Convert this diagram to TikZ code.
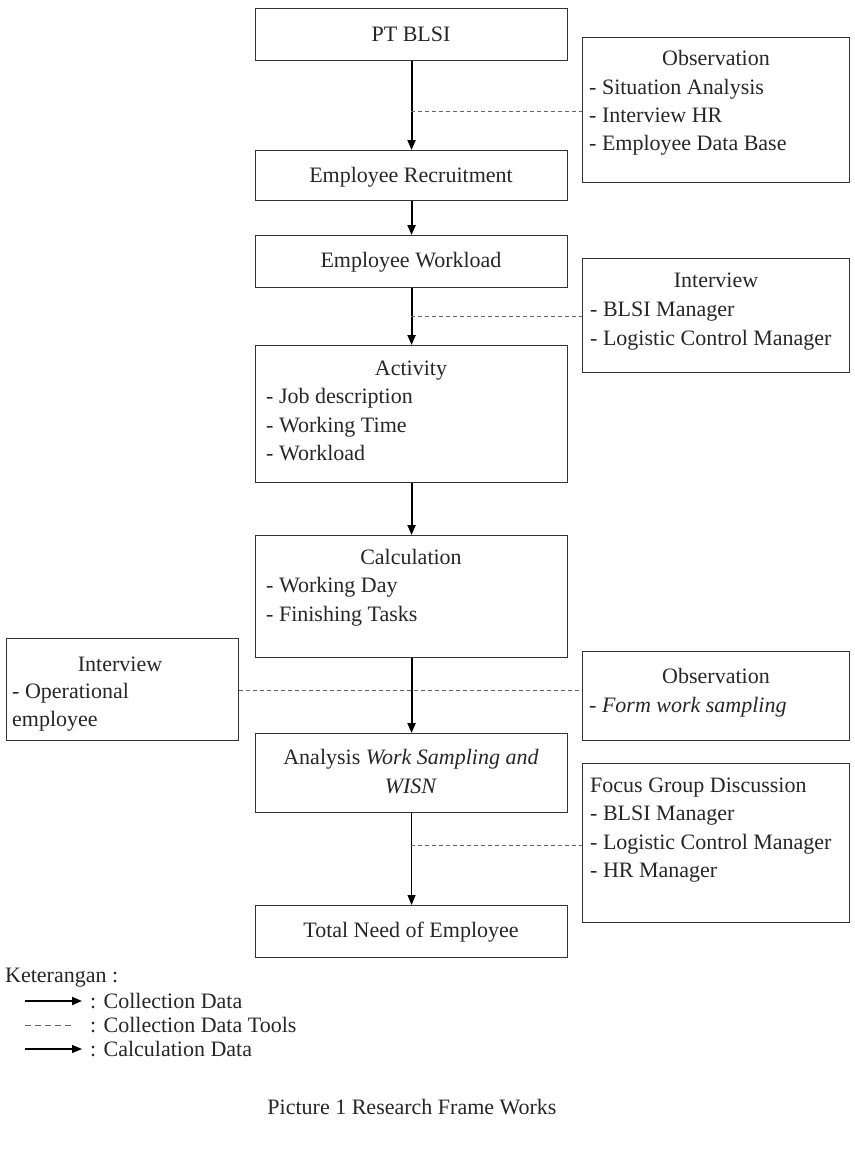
\documentclass[tikz,border=0pt]{standalone}
\usepackage{fontspec}
\setmainfont{Liberation Serif}
\usetikzlibrary{arrows.meta}
\begin{document}
\begin{tikzpicture}[x=1pt,y=-1pt,
  box/.style={draw=black!80, line width=1.1pt, inner sep=0pt, rectangle, anchor=north west},
  txt/.style={inner sep=0pt, font=\fontsize{22}{28}\selectfont, text=black!85},
  coll/.style={line width=2pt, draw=black, -{Triangle[length=10pt,width=8pt]}},
  calc/.style={line width=1.1pt, draw=black, -{Triangle[length=10pt,width=8pt]}},
  tool/.style={draw=black!60, line width=1pt, dash pattern=on 4pt off 3pt},
  legtool/.style={draw=black!60, line width=1pt, dash pattern=on 6pt off 4pt}
]
\useasboundingbox (0,0) rectangle (854,1159);
% main column
\node[box, minimum width=312pt, minimum height=52pt] (pt) at (255,8) {};
\node[txt, anchor=base] (ptT) at (411,41) {PT BLSI};
\node[box, minimum width=312pt, minimum height=50pt] (rec) at (255,150) {};
\node[txt, anchor=base] (recT) at (411,182) {Employee Recruitment};
\node[box, minimum width=312pt, minimum height=52pt] (wl) at (255,235) {};
\node[txt, anchor=base] (wlT) at (411,267) {Employee Workload};
\node[box, minimum width=312pt, minimum height=137pt] (act) at (255,345) {};
\node[txt, anchor=base] (actT) at (411,375) {Activity};
\node[txt, anchor=base west] (act1) at (266,403) {- Job description};
\node[txt, anchor=base west] (act2) at (266,432) {- Working Time};
\node[txt, anchor=base west] (act3) at (266,460) {- Workload};
\node[box, minimum width=312pt, minimum height=122pt] (cal) at (255,535) {};
\node[txt, anchor=base] (calT) at (411,564) {Calculation};
\node[txt, anchor=base west] (cal1) at (266,592) {- Working Day};
\node[txt, anchor=base west] (cal2) at (266,621) {- Finishing Tasks};
\node[box, minimum width=312pt, minimum height=79pt] (ana) at (255,733) {};
\node[txt, anchor=base] (anaT1) at (411,764) {Analysis \textit{Work Sampling and}};
\node[txt, anchor=base] (anaT2) at (411,793) {\textit{WISN}};
\node[box, minimum width=312pt, minimum height=52pt] (tot) at (255,905) {};
\node[txt, anchor=base] (totT) at (411,937) {Total Need of Employee};
% side boxes
\node[box, minimum width=267pt, minimum height=145pt] (obs1) at (582,37) {};
\node[txt, anchor=base] (obs1T) at (716,65) {Observation};
\node[txt, anchor=base west] (obs1a) at (589,94) {- Situation Analysis};
\node[txt, anchor=base west] (obs1b) at (589,122) {- Interview HR};
\node[txt, anchor=base west] (obs1c) at (589,150) {- Employee Data Base};
\node[box, minimum width=267pt, minimum height=114pt] (int1) at (582,258) {};
\node[txt, anchor=base] (int1T) at (716,287) {Interview};
\node[txt, anchor=base west] (int1a) at (590,316) {- BLSI Manager};
\node[txt, anchor=base west] (int1b) at (590,345) {- Logistic Control Manager};
\node[box, minimum width=232pt, minimum height=102pt] (intL) at (6,638) {};
\node[txt, anchor=base] (intLT) at (120,671) {Interview};
\node[txt, anchor=base west] (intLa) at (12,698) {- Operational};
\node[txt, anchor=base west] (intLb) at (12,726) {employee};
\node[box, minimum width=267pt, minimum height=89pt] (obs2) at (582,651) {};
\node[txt, anchor=base] (obs2T) at (716,683) {Observation};
\node[txt, anchor=base west] (obs2a) at (589,712) {\textit{- Form work sampling}};
\node[box, minimum width=267pt, minimum height=159pt] (fgd) at (582,763) {};
\node[txt, anchor=base west] (fgdT) at (590,792) {Focus Group Discussion};
\node[txt, anchor=base west] (fgda) at (590,820) {- BLSI Manager};
\node[txt, anchor=base west] (fgdb) at (590,849) {- Logistic Control Manager};
\node[txt, anchor=base west] (fgdc) at (590,877) {- HR Manager};
% arrows
\draw[coll] (pt.south) -- (rec.north);
\draw[coll] (rec.south) -- (wl.north);
\draw[coll] (wl.south) -- (act.north);
\draw[coll] (act.south) -- (cal.north);
\draw[coll] (cal.south) -- (ana.north);
\draw[calc] (ana.south) -- (tot.north);
% dashed tool lines
\coordinate (d1) at (411,111);
\coordinate (d2) at (411,316);
\coordinate (d3) at (411,690);
\coordinate (d4) at (411,845);
\draw[tool] (d1) -- (d1 -| obs1.west);
\draw[tool] (d2) -- (d2 -| int1.west);
\draw[tool] (d3 -| intL.east) -- (d3 -| obs2.west);
\draw[tool] (d4) -- (d4 -| fgd.west);
% legend
\node[txt, anchor=base west] (ket) at (5,982) {Keterangan :};
\coordinate (l1a) at (25,1001); \coordinate (l1b) at (82,1001);
\coordinate (l2a) at (25,1025); \coordinate (l2b) at (72,1025);
\coordinate (l3a) at (25,1049); \coordinate (l3b) at (82,1049);
\draw[coll] (l1a) -- (l1b);
\draw[legtool] (l2a) -- (l2b);
\draw[calc] (l3a) -- (l3b);
\node[txt, anchor=base west] (leg1) at (90,1008) {: Collection Data};
\node[txt, anchor=base west] (leg2) at (90,1032) {: Collection Data Tools};
\node[txt, anchor=base west] (leg3) at (90,1056) {: Calculation Data};
\node[txt, anchor=base] (cap) at (412,1114) {Picture 1 Research Frame Works};
\end{tikzpicture}
\end{document}
